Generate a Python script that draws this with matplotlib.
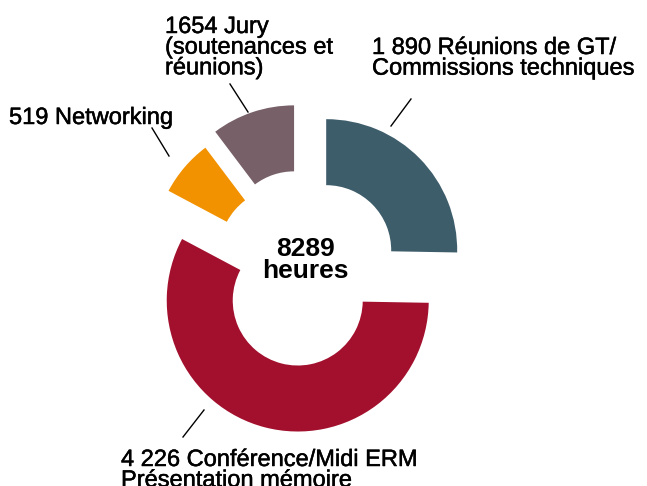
import matplotlib
matplotlib.use('Agg')
import matplotlib.pyplot as plt
import matplotlib.patheffects as pe

# categories in drawing order (clockwise from 12 o'clock)
labels = [
    '1 890 Réunions de GT/\nCommissions techniques',
    '4 226 Conférence/Midi ERM\nPrésentation mémoire',
    '519 Networking',
    '1654 Jury\n(soutenances et\nréunions)',
]
hours = [1890, 4226, 519, 1654]
# share of the ring each slice takes in the picture (degrees)
drawn_share = [91, 207, 25, 37]
total_label = '8289\nheures'

colors = ['#3e5d6b', '#a2102d', '#f39200', '#776068']

W, H = 647, 486
R, RING = 131, 66
cx, cy = 305.5, H - 270.5
# pie() shifts slices by explode in data units (pixels here)
explode = [29, 31, 28, 36]


def px(x, y):
    # picture pixel -> data coords (y up)
    return x, H - y


fig = plt.figure(figsize=(W / 100, H / 100), dpi=100)
ax = fig.add_axes([0, 0, 1, 1])

ax.pie(drawn_share, colors=colors, explode=explode, startangle=90,
       counterclock=False, radius=R, center=(cx, cy),
       wedgeprops=dict(width=RING, linewidth=0))

ax.text(cx, cy + 33, total_label, ha='center', va='top', fontsize=19,
        fontweight='bold', family='Liberation Sans', linespacing=0.85)

# label text (top-left corner) and leader line ends, in picture pixels
label_pos = [(372, 37), (121, 449), (9, 107), (165, 16)]
leaders = [
    ((411, 99), (391, 126)),
    ((204, 410), (183, 437)),
    ((152, 128), (169, 156)),
    ((230, 84), (248, 112)),
]

medium = [pe.withStroke(linewidth=0.35, foreground='black')]
for text, (lx, ly), (p0, p1) in zip(labels, label_pos, leaders):
    x, y = px(lx, ly)
    ax.text(x, y, text, ha='left', va='top', fontsize=17,
            family='Liberation Sans', linespacing=0.92, path_effects=medium)
    (x0, y0), (x1, y1) = px(*p0), px(*p1)
    ax.plot([x0, x1], [y0, y1], color='black', lw=1)

ax.set_xlim(0, W)
ax.set_ylim(0, H)
ax.set_aspect('equal')
ax.axis('off')

fig.savefig('out.png', dpi=100)
